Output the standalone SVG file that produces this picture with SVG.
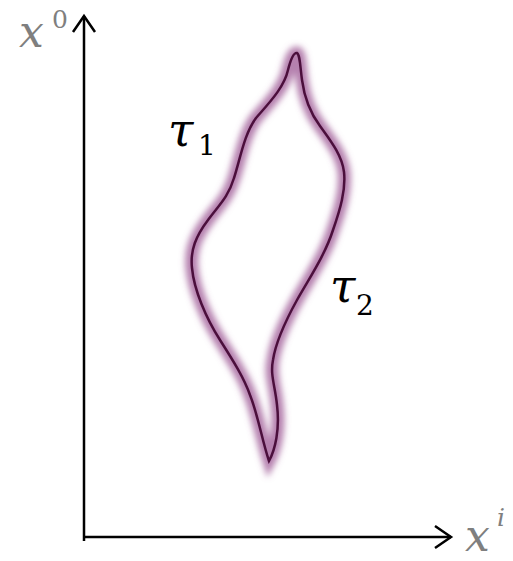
<svg xmlns="http://www.w3.org/2000/svg" width="513" height="561" viewBox="0 0 513 561">
<style>
.axis{stroke:#000;stroke-width:2.5;fill:none}
.mi{font-family:"DejaVu Serif","Liberation Serif",serif;font-style:italic}
.mn{font-family:"DejaVu Serif","Liberation Serif",serif}
.gray{fill:#7f7f7f}
.glow{fill:none;stroke:#a3609a;stroke-width:13;stroke-opacity:0.8}
.line{fill:none;stroke:#4b0f3c;stroke-width:2.5}
</style>
<defs>
<filter id="glow" x="-30%" y="-30%" width="160%" height="160%"><feGaussianBlur stdDeviation="3.2"/></filter>
<path id="loopPath" d="M297,53 C293,52 290,62 288,70 C284,88 268,104 256,118 C244,134 240,160 234,178 C228,198 218,206 208,220 C196,236 190,250 192,268 C194,290 206,318 220,340 C234,362 244,378 250,395 C258,415 262,440 269,461 C275,450 280,430 277,405 C275,385 270,375 273,360 C276,340 286,320 297,300 C310,277 325,255 333,230 C340,210 346,190 344,172 C342,155 330,140 320,126 C308,110 304,95 302,80 C300,65 300,55 297,53 Z"/>
</defs>
<g id="axes">
<line class="axis" x1="84" y1="541" x2="84" y2="16"/>
<polyline class="axis" points="73,32 84,16 95,32"/>
<line class="axis" x1="83" y1="537" x2="451" y2="537"/>
<polyline class="axis" points="435,526 451,537 435,548"/>
</g>
<g id="loop">
<use href="#loopPath" class="glow" filter="url(#glow)"/>
<use href="#loopPath" class="line"/>
</g>
<g id="labels">
<text class="mi gray" x="19" y="47" font-size="44">x</text>
<text class="mn gray" x="52" y="28" font-size="25">0</text>
<text class="mi gray" x="465" y="551" font-size="44">x</text>
<text class="mi gray" x="497" y="526" font-size="25">i</text>
<text class="mi" x="168" y="146" font-size="46">τ</text>
<text class="mn" x="198" y="155" font-size="28">1</text>
<text class="mi" x="330" y="302" font-size="46">τ</text>
<text class="mn" x="356" y="315" font-size="28">2</text>
</g>
</svg>
